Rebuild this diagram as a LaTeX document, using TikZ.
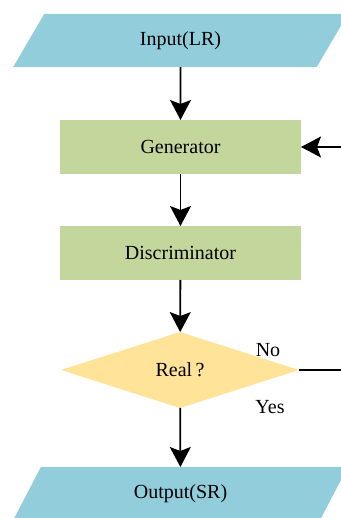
\documentclass[tikz,border=0pt]{standalone}
\usepackage{fontspec}
\setmainfont{Liberation Serif}
\usetikzlibrary{shapes.geometric,arrows.meta}

\definecolor{ioblue}{HTML}{92CDDC}
\definecolor{procgreen}{HTML}{C3D69B}
\definecolor{decyellow}{HTML}{FFE398}

\tikzset{
  iobox/.style={trapezium, trapezium left angle=63, trapezium right angle=117,
    trapezium stretches=true, minimum width=335bp, minimum height=53bp,
    fill=ioblue, inner sep=0pt, outer sep=0pt},
  procbox/.style={rectangle, fill=procgreen, minimum width=241bp,
    minimum height=54bp, inner sep=0pt, outer sep=0pt},
  decbox/.style={diamond, fill=decyellow, minimum width=238bp,
    minimum height=76bp, inner sep=0pt, outer sep=0pt},
  flow/.style={line width=1.8bp, -{Stealth[length=20bp,width=21bp,inset=4bp]}},
  plain/.style={line width=1.8bp},
  lbl/.style={inner sep=0pt}
}

\begin{document}
\begin{tikzpicture}[x=1bp,y=-1bp,font=\fontsize{20bp}{23bp}\selectfont]
\useasboundingbox (0,0) rectangle (340,518);

\node[iobox]   (input) at (180.5,40.5)  {Input(LR)};
\node[procbox] (gen)   at (180.5,147)   {Generator};
\node[procbox] (disc)  at (180.5,253)   {Discriminator};
\node[decbox]  (real)  at (180,370)     {Real\,?};
\node[iobox]   (out)   at (180.5,493.5) {Output(SR)};

\coordinate (fbdown) at (350,370);
\coordinate (fbup)   at (350,147);

\draw[flow] (input) -- (gen);
\draw[flow] (gen) -- (disc);
\draw[flow] (disc) -- (real);
\draw[flow] (real) -- (out);
\draw[plain] (real.east) -- (fbdown) -- (fbup);
\draw[flow] (fbup) -- (gen.east);

\node[lbl] (no)  at (268,350) {No};
\node[lbl] (yes) at (270,407) {Yes};
\end{tikzpicture}
\end{document}
